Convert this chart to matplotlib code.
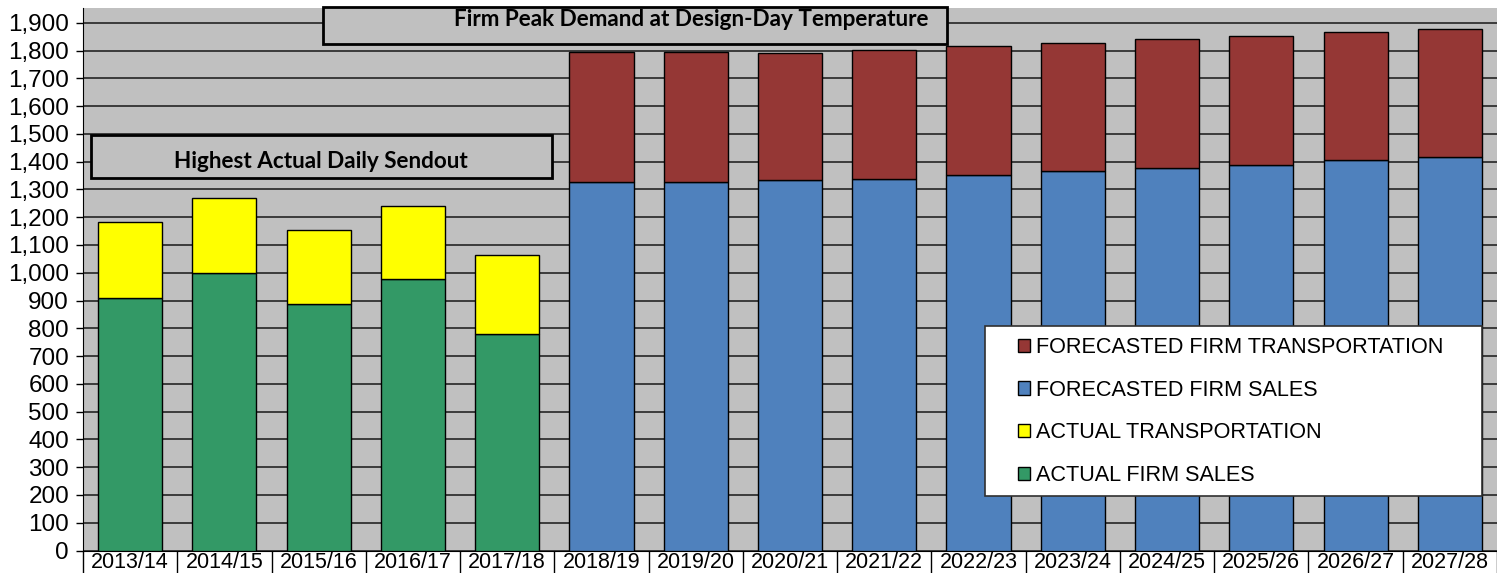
import matplotlib.pyplot as plt
from matplotlib.patches import Rectangle, Patch
from matplotlib.ticker import FuncFormatter, FixedLocator

years = ["2013/14", "2014/15", "2015/16", "2016/17", "2017/18",
         "2018/19", "2019/20", "2020/21", "2021/22", "2022/23",
         "2023/24", "2024/25", "2025/26", "2026/27", "2027/28"]

# actual years
actual_sales = [910, 998, 887, 977, 779]
actual_total = [1184, 1270, 1153, 1239, 1064]
actual_transport = [t - s for t, s in zip(actual_total, actual_sales)]

# forecast years
forecast_sales = [1328, 1328, 1333, 1337, 1353, 1367, 1378, 1389, 1405, 1415]
forecast_total = [1796, 1796, 1792, 1802, 1816, 1828, 1842, 1853, 1868, 1878]
forecast_transport = [t - s for t, s in zip(forecast_total, forecast_sales)]

GREEN = "#339966"
YELLOW = "#FFFF00"
BLUE = "#4F81BD"
RED = "#953735"
BG = "#C0C0C0"


def main():
    plt.rcParams["font.family"] = ["Liberation Sans", "DejaVu Sans"]
    fig = plt.figure(figsize=(14.97, 5.73), dpi=100)
    ax = fig.add_axes([83 / 1497, 1 - 550.5 / 573, 1 - 83 / 1497, (550.5 - 8) / 573])
    ax.set_facecolor(BG)

    xa = list(range(len(actual_sales)))
    xf = list(range(len(actual_sales), len(years)))
    w = 0.68
    kw = dict(width=w, edgecolor="black", linewidth=1, zorder=3)
    ax.bar(xa, actual_sales, color=GREEN, **kw)
    ax.bar(xa, actual_transport, bottom=actual_sales, color=YELLOW, **kw)
    ax.bar(xf, forecast_sales, color=BLUE, **kw)
    ax.bar(xf, forecast_transport, bottom=forecast_sales, color=RED, **kw)

    ax.set_xlim(-0.5, len(years) - 0.5)
    ax.set_ylim(0, 1953)
    ax.set_yticks(range(0, 2000, 100))
    ax.yaxis.set_major_formatter(FuncFormatter(lambda v, p: f"{int(v):,}"))
    ax.grid(axis="y", color="#303030", linewidth=1.3, zorder=1)
    ax.set_axisbelow(True)

    ax.set_xticks(range(len(years)))
    ax.set_xticklabels(years, fontsize=15.5)
    ax.xaxis.set_minor_locator(FixedLocator([i - 0.5 for i in range(len(years) + 1)]))
    ax.tick_params(axis="x", which="major", length=0, pad=1)
    ax.tick_params(axis="x", which="minor", length=20, width=1, color="black")
    ax.tick_params(axis="y", length=5, width=1, labelsize=17.5, pad=5)

    for s in ["top", "right"]:
        ax.spines[s].set_visible(False)
    ax.spines["left"].set_color("black")
    ax.spines["bottom"].set_color("black")

    # annotation boxes
    fig.patches.append(Rectangle((91 / 1497, 1 - 178 / 573), 461 / 1497, 43 / 573,
                                 transform=fig.transFigure, facecolor=BG,
                                 edgecolor="black", linewidth=2, zorder=5))
    fig.text(321 / 1497, 1 - 162 / 573, "Highest Actual Daily Sendout",
             ha="center", va="center", fontsize=16.2, fontweight="bold",
             family="Lato", zorder=6)
    fig.patches.append(Rectangle((323 / 1497, 1 - 44 / 573), 624 / 1497, 37 / 573,
                                 transform=fig.transFigure, facecolor=BG,
                                 edgecolor="black", linewidth=2, zorder=5))
    fig.text(691 / 1497, 1 - 19 / 573, "Firm Peak Demand at Design-Day Temperature",
             ha="center", va="center", fontsize=16.2, fontweight="bold",
             family="Lato", zorder=6)

    # legend box
    fig.patches.append(Rectangle((985 / 1497, 1 - 496 / 573), 497 / 1497, 170 / 573,
                                 transform=fig.transFigure, facecolor="white",
                                 edgecolor="#303030", linewidth=1.2, zorder=5))
    handles = [Patch(facecolor=c, edgecolor="black", linewidth=1)
               for c in [RED, BLUE, YELLOW, GREEN]]
    labels = ["FORECASTED FIRM TRANSPORTATION", "FORECASTED FIRM SALES",
              "ACTUAL TRANSPORTATION", "ACTUAL FIRM SALES"]
    leg = fig.legend(handles, labels, loc="upper left",
                     bbox_to_anchor=(1018 / 1497, 1 - 337 / 573),
                     frameon=False, fontsize=15.6, handlelength=0.55,
                     handleheight=0.55, handletextpad=0.3, labelspacing=1.0,
                     borderpad=0, borderaxespad=0)
    leg.set_zorder(6)

    fig.savefig("out.png", dpi=100)


if __name__ == "__main__":
    main()
